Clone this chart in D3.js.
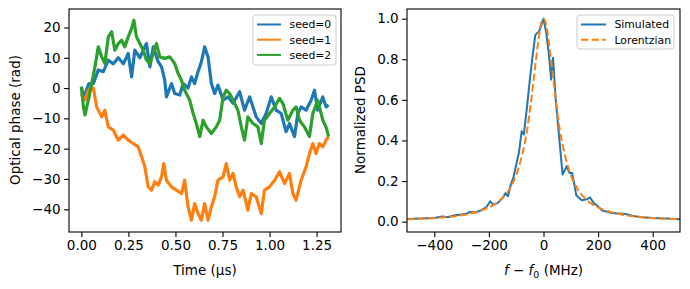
<!DOCTYPE html>
<html>
<head>
<meta charset="utf-8">
<script src="https://cdn.jsdelivr.net/npm/d3@7"></script>
<style>
  body { margin: 0; background: #fff; }
  svg { font-family: "DejaVu Sans", sans-serif; }
</style>
</head>
<body>
<svg id="chart" width="690" height="289"></svg>
<script>
// phase random walks: [time in us, phase in rad]
var seed0 = [[0,0.5],[0.012,-3],[0.025,-1],[0.04,1.5],[0.064,1.5],[0.09,6],[0.117,5.4],[0.143,9.2],[0.17,8],[0.196,10],
  [0.223,8],[0.249,11.4],[0.267,3.7],[0.284,12.5],[0.311,10],[0.346,14.7],[0.364,7],[0.382,13.6],[0.408,8.7],[0.426,7],
  [0.443,2.6],[0.452,-2.9],[0.479,1.5],[0.496,-1.8],[0.523,-2.3],[0.541,1.5],[0.567,0],[0.585,3.7],[0.602,1.5],[0.62,5.4],
  [0.638,8.7],[0.655,13.6],[0.673,10.3],[0.691,1.5],[0.708,-1.8],[0.726,1],[0.753,-4],[0.779,-2.9],[0.806,-5],[0.841,-1.2],
  [0.867,-7.3],[0.894,-2.9],[0.929,-9.5],[0.956,-11.7],[0.982,-8.4],[1.009,-2.9],[1.035,-7.3],[1.062,-8.4],[1.088,-14.4],
  [1.106,-11.7],[1.133,-16],[1.15,-8.4],[1.168,-6.2],[1.194,-7.3],[1.221,-4],[1.239,-0.7],[1.256,-7.3],[1.283,-2.9],
  [1.3,-6.2],[1.314,-5.6]];
var seed1 = [[0,-1.8],[0.019,-4],[0.037,-0.7],[0.064,0],[0.081,-6.2],[0.108,-9.5],[0.125,-7.3],[0.143,-12.8],[0.17,-13.9],
  [0.196,-17.2],[0.223,-15.5],[0.249,-17.2],[0.276,-18.3],[0.302,-19.4],[0.32,-22.7],[0.337,-25.9],[0.355,-32.6],[0.373,-33.7],
  [0.39,-30.9],[0.408,-32],[0.426,-29.3],[0.438,-24.9],[0.452,-30.4],[0.479,-32.6],[0.505,-33.7],[0.532,-34.8],[0.549,-30.4],
  [0.567,-39.2],[0.585,-43.6],[0.602,-38.1],[0.62,-41.4],[0.638,-43.6],[0.655,-38.1],[0.673,-43.6],[0.691,-39.2],[0.708,-35.9],
  [0.726,-30.4],[0.753,-29.3],[0.77,-24.9],[0.788,-30.4],[0.806,-28.2],[0.823,-32.6],[0.841,-35.9],[0.859,-33.7],[0.885,-40.3],
  [0.903,-34.8],[0.929,-35.9],[0.956,-41.4],[0.973,-33.7],[1,-32.6],[1.027,-30.4],[1.053,-27.6],[1.08,-31.5],[1.106,-28.2],
  [1.124,-34.8],[1.141,-37],[1.168,-30.4],[1.194,-26],[1.212,-21.6],[1.23,-18.3],[1.247,-21.6],[1.265,-18.3],[1.283,-19.4],
  [1.3,-17.2],[1.314,-16.1]];
var seed2 = [[0,0.4],[0.011,-6.2],[0.019,-8.9],[0.037,-4],[0.055,1.5],[0.072,7],[0.09,13.6],[0.108,10.3],[0.125,8.1],
  [0.143,16.9],[0.161,18.6],[0.178,12.5],[0.196,14.7],[0.214,15.8],[0.231,13.6],[0.249,16.9],[0.267,19.7],[0.279,22.4],
  [0.293,16.9],[0.311,14.7],[0.329,12.5],[0.346,9.2],[0.364,8.1],[0.382,11.4],[0.399,14.7],[0.417,10.3],[0.443,9.8],
  [0.47,10.3],[0.496,8.1],[0.514,4.8],[0.532,2.6],[0.549,-0.7],[0.576,-4],[0.594,-8.4],[0.611,-11.7],[0.629,-16],
  [0.647,-10.6],[0.664,-12.8],[0.691,-15],[0.717,-12.8],[0.735,-10.6],[0.753,-2.9],[0.77,-0.7],[0.788,-1.8],[0.806,-4],
  [0.832,-7.3],[0.85,-12.8],[0.867,-17.2],[0.885,-9.5],[0.912,-11.7],[0.938,-12.8],[0.956,-18.3],[0.973,-10.6],[1,-8.4],
  [1.027,-6.2],[1.053,-3.4],[1.071,-5.1],[1.097,-10.6],[1.124,-7.3],[1.141,-6.2],[1.159,-10.6],[1.185,-12.8],[1.212,-16],
  [1.23,-8.4],[1.256,-4],[1.283,-10.6],[1.3,-12.8],[1.314,-16]];
var seedNames = ["seed=0", "seed=1", "seed=2"];
var phaseTicks = [-40, -30, -20, -10, 0, 10, 20];
var timeTicks = [0, 0.25, 0.5, 0.75, 1.0, 1.25];

// spectrum: [frequency offset in MHz, normalized PSD]
var simulated = [[-500,0.013],[-450,0.015],[-400,0.018],[-370,0.025],[-350,0.022],[-330,0.03],[-300,0.035],[-280,0.04],
  [-270,0.048],[-250,0.045],[-230,0.055],[-210,0.07],[-195,0.1],[-185,0.085],[-170,0.09],[-150,0.115],[-140,0.14],
  [-130,0.125],[-120,0.18],[-110,0.22],[-100,0.28],[-90,0.34],[-80,0.445],[-72,0.43],[-60,0.57],[-50,0.7],[-40,0.815],
  [-30,0.92],[-15,0.94],[0,1.0],[10,0.93],[20,0.82],[28,0.7],[35,0.807],[45,0.6],[55,0.45],[70,0.232],[85,0.273],
  [95,0.24],[105,0.24],[120,0.13],[140,0.105],[160,0.11],[170,0.12],[185,0.09],[200,0.075],[215,0.055],[230,0.05],
  [250,0.042],[300,0.038],[330,0.028],[360,0.022],[400,0.018],[450,0.015],[500,0.012]];
var lorentzian = [[-500,0.012],[-400,0.018],[-300,0.032],[-250,0.046],[-200,0.07],[-175,0.089],[-150,0.118],[-125,0.16],
  [-100,0.23],[-80,0.32],[-60,0.45],[-45,0.6],[-30,0.77],[-20,0.88],[-10,0.97],[0,1.0],[10,0.97],[20,0.88],[30,0.77],
  [45,0.6],[60,0.45],[80,0.32],[100,0.23],[125,0.16],[150,0.118],[175,0.089],[200,0.07],[250,0.046],[300,0.032],
  [400,0.018],[500,0.012]];
var psdNames = ["Simulated", "Lorentzian"];
var psdTicks = [0, 0.2, 0.4, 0.6, 0.8, 1.0];
var freqTicks = [-400, -200, 0, 200, 400];

var colors = ["#1f77b4", "#ff7f0e", "#2ca02c"];
var svg = d3.select("#chart");
var minus = function(s) { return s.replace("-", "\u2212"); };

function drawAxes(g, x, y, xt, yt, xfmt, yfmt, w, h) {
  g.append("g").attr("transform", "translate(0," + h + ")")
    .call(d3.axisBottom(x).tickValues(xt).tickSize(4.9).tickPadding(4)
      .tickFormat(function(d){ return minus(xfmt(d)); }));
  g.append("g")
    .call(d3.axisLeft(y).tickValues(yt).tickSize(4.9).tickPadding(3.5)
      .tickFormat(function(d){ return minus(yfmt(d)); }));
  g.selectAll(".domain").remove();
  g.selectAll(".tick line").attr("stroke", "#000").attr("stroke-width", 1.1);
  g.selectAll(".tick text").attr("fill", "#000").style("font-size", "13.5px")
    .style("font-family", "DejaVu Sans");
  g.append("rect").attr("width", w).attr("height", h).attr("fill", "none")
    .attr("stroke", "#000").attr("stroke-width", 1.1);
}

function legend(g, x0, y0, w, h, names, styles, lineLen) {
  var lg = g.append("g").attr("transform", "translate(" + x0 + "," + y0 + ")");
  lg.append("rect").attr("width", w).attr("height", h).attr("rx", 3)
    .attr("fill", "#fff").attr("fill-opacity", 0.8).attr("stroke", "#cccccc").attr("stroke-width", 1);
  names.forEach(function(n, i) {
    var yy = 9.5 + i * 15.2;
    lg.append("line").attr("x1", 4).attr("x2", 4 + lineLen).attr("y1", yy).attr("y2", yy)
      .attr("stroke", styles[i].c).attr("stroke-width", 2).attr("stroke-dasharray", styles[i].d || null);
    lg.append("text").attr("x", lineLen + 12.5).attr("y", yy).attr("dy", "0.36em")
      .style("font-size", "10.8px").attr("fill", "#000").text(n);
  });
}

// ---- left panel: optical phase
var L = {left: 69, top: 9, w: 272, h: 223};
var gl = svg.append("g").attr("transform", "translate(" + L.left + "," + L.top + ")");
var xl = d3.scaleLinear().domain([-0.0657, 1.3797]).range([0, L.w]);
var yl = d3.scaleLinear().domain([-47.5, 26.1]).range([L.h, 0]);
var lineL = d3.line().x(function(d){ return xl(d[0]); }).y(function(d){ return yl(d[1]); });
[seed0, seed1, seed2].forEach(function(s, i) {
  gl.append("path").datum(s).attr("d", lineL).attr("fill", "none")
    .attr("stroke", colors[i]).attr("stroke-width", 3.2).attr("stroke-linejoin", "round");
});
drawAxes(gl, xl, yl, timeTicks, phaseTicks, d3.format(".2f"), d3.format("d"), L.w, L.h);
legend(gl, 184, 6, 83, 50, seedNames,
  [{c: colors[0]}, {c: colors[1]}, {c: colors[2]}], 24);
gl.append("text").attr("x", L.w / 2).attr("y", 275 - L.top).attr("text-anchor", "middle")
  .style("font-size", "13.5px").text("Time (\u00b5s)");
svg.append("text").attr("transform", "translate(20,120) rotate(-90)").attr("text-anchor", "middle")
  .style("font-size", "13.5px").text("Optical phase (rad)");

// ---- right panel: spectrum
var R = {left: 407, top: 9, w: 273, h: 223};
var gr = svg.append("g").attr("transform", "translate(" + R.left + "," + R.top + ")");
var xr = d3.scaleLinear().domain([-500, 500]).range([0, R.w]);
var yr = d3.scaleLinear().domain([-0.051, 1.0476]).range([R.h, 0]);
gr.append("clipPath").attr("id", "clipR").append("rect").attr("width", R.w).attr("height", R.h);
var lineR = d3.line().x(function(d){ return xr(d[0]); }).y(function(d){ return yr(d[1]); });
gr.append("path").datum(simulated).attr("d", lineR).attr("fill", "none").attr("clip-path", "url(#clipR)")
  .attr("stroke", colors[0]).attr("stroke-width", 2).attr("stroke-linejoin", "round");
gr.append("path").datum(lorentzian).attr("d", d3.line().curve(d3.curveMonotoneX)
    .x(function(d){ return xr(d[0]); }).y(function(d){ return yr(d[1]); }))
  .attr("fill", "none").attr("clip-path", "url(#clipR)")
  .attr("stroke", colors[1]).attr("stroke-width", 2).attr("stroke-dasharray", "7.4,3.2");
drawAxes(gr, xr, yr, freqTicks, psdTicks, d3.format("d"), d3.format(".1f"), R.w, R.h);
legend(gr, 170, 6, 97, 34, psdNames, [{c: colors[0]}, {c: colors[1], d: "7.4,3.2"}], 25);
var xlab = gr.append("text").attr("x", R.w / 2).attr("y", 275 - R.top).attr("text-anchor", "middle")
  .style("font-size", "13.5px");
xlab.append("tspan").style("font-style", "italic").text("f");
xlab.append("tspan").text(" \u2212 ");
xlab.append("tspan").style("font-style", "italic").text("f");
xlab.append("tspan").attr("dy", 3).style("font-size", "9.5px").text("0");
xlab.append("tspan").attr("dy", -3).text(" (MHz)");
svg.append("text").attr("transform", "translate(365,120) rotate(-90)").attr("text-anchor", "middle")
  .style("font-size", "13.5px").text("Normalized PSD");
</script>
</body>
</html>
